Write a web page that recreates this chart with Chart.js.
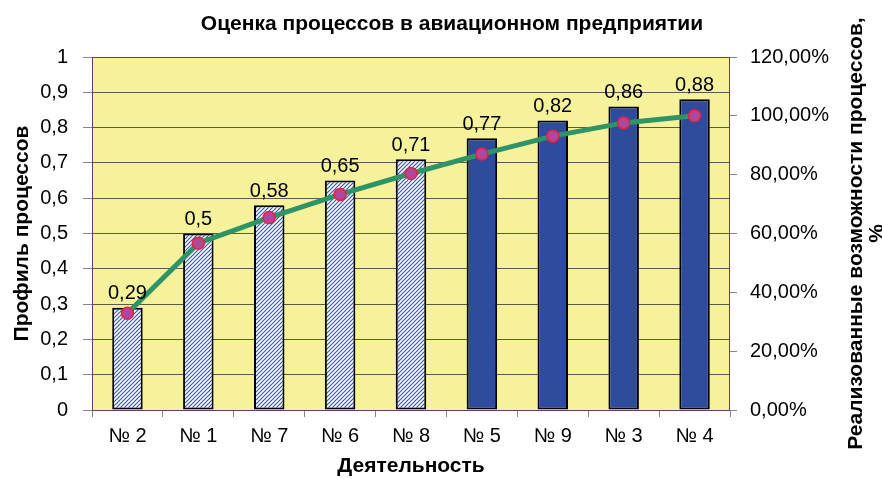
<!DOCTYPE html>
<html>
<head>
<meta charset="utf-8">
<script src="https://cdn.jsdelivr.net/npm/chart.js@4"></script>
<style>
  html, body { margin: 0; padding: 0; background: #fff; }
  #wrap { width: 882px; height: 479px; }
</style>
</head>
<body>
<div id="wrap"><canvas id="chart" width="882" height="479"></canvas></div>
<script>
const categories = ["№ 2", "№ 1", "№ 7", "№ 6", "№ 8", "№ 5", "№ 9", "№ 3", "№ 4"];
const profileValues = [0.29, 0.5, 0.58, 0.65, 0.71, 0.77, 0.82, 0.86, 0.88];
const realizedPercent = [32.9, 56.7, 65.4, 73.3, 80.4, 87.0, 93.1, 97.6, 100];
const hatchedCount = 5;

const chartTitle = "Оценка процессов в авиационном предприятии";
const rightTitle = ["Реализованные возможности процессов,", "%"];

const FONT = "Arial, 'Liberation Sans', sans-serif";

function makeHatch() {
  const c = document.createElement("canvas");
  c.width = 4;
  c.height = 4;
  const g = c.getContext("2d");
  g.fillStyle = "#ffffff";
  g.fillRect(0, 0, 4, 4);
  g.strokeStyle = "#3a56a8";
  g.lineWidth = 1.2;
  g.beginPath();
  g.moveTo(-1, 5); g.lineTo(5, -1);
  g.moveTo(-1, 1); g.lineTo(1, -1);
  g.moveTo(3, 5); g.lineTo(5, 3);
  g.stroke();
  return g.createPattern(c, "repeat");
}

const ctx = document.getElementById("chart").getContext("2d");
const hatch = makeHatch();
const barColors = profileValues.map((_, i) => i < hatchedCount ? hatch : "#2e4b9e");

const plotBackground = {
  id: "plotBackground",
  beforeDraw(chart) {
    const { ctx, chartArea: a } = chart;
    ctx.save();
    ctx.fillStyle = "#f6f29c";
    ctx.fillRect(a.left, a.top, a.right - a.left, a.bottom - a.top);
    ctx.restore();
  },
  afterDraw(chart) {
    const { ctx, chartArea: a } = chart;
    ctx.save();
    ctx.strokeStyle = "#6b3a6b";
    ctx.lineWidth = 1;
    ctx.strokeRect(a.left + 0.5, a.top + 0.5, a.right - a.left - 1, a.bottom - a.top);

    // chart title
    ctx.fillStyle = "#000";
    ctx.font = "bold 21px " + FONT;
    ctx.textAlign = "center";
    ctx.textBaseline = "middle";
    ctx.fillText(chartTitle, 452, 24);

    // right axis title, read bottom to top
    const cy = (a.top + a.bottom) / 2;
    ctx.translate(a.right, cy);
    ctx.rotate(-Math.PI / 2);
    ctx.fillText(rightTitle[0], 0, 126);
    ctx.fillText(rightTitle[1], 0, 147);
    ctx.restore();
  }
};

const barLabels = {
  id: "barLabels",
  afterDatasetsDraw(chart) {
    const { ctx } = chart;
    const meta = chart.getDatasetMeta(1);
    ctx.save();
    ctx.font = "20px " + FONT;
    ctx.fillStyle = "#000";
    ctx.textAlign = "center";
    ctx.textBaseline = "bottom";
    meta.data.forEach((bar, i) => {
      const txt = String(profileValues[i]).replace(".", ",");
      ctx.fillText(txt, bar.x, bar.y - 4);
    });
    ctx.restore();
  }
};

new Chart(ctx, {
  data: {
    labels: categories,
    datasets: [
      {
        type: "line",
        label: "Реализованные возможности",
        data: realizedPercent,
        yAxisID: "y2",
        borderColor: "#2e9465",
        borderWidth: 5,
        pointRadius: 6,
        pointBackgroundColor: "#b0479c",
        pointBorderColor: "#e8203c",
        pointBorderWidth: 1.5,
        tension: 0,
        order: 0
      },
      {
        type: "bar",
        label: "Профиль процессов",
        data: profileValues,
        yAxisID: "y",
        backgroundColor: barColors,
        borderColor: "#000",
        borderWidth: 2,
        borderSkipped: false,
        categoryPercentage: 1,
        barPercentage: 0.43,
        order: 1
      }
    ]
  },
  options: {
    responsive: false,
    animation: false,
    layout: { padding: { left: 0, right: 0, top: 57, bottom: 0 } },
    plugins: {
      legend: { display: false },
      tooltip: { enabled: false },
      title: { display: false }
    },
    scales: {
      x: {
        grid: { display: true, drawOnChartArea: false, offset: true, tickLength: 7, color: "#888" },
        border: { display: false },
        ticks: { color: "#000", font: { family: FONT, size: 20 }, padding: 7, maxRotation: 0 },
        title: {
          display: true,
          text: "Деятельность",
          color: "#000",
          font: { family: FONT, size: 21, weight: "bold" },
          padding: { top: 0, bottom: 0 }
        },
        afterFit: s => { s.height = 69; }
      },
      y: {
        position: "left",
        min: 0,
        max: 1,
        ticks: {
          stepSize: 0.1,
          color: "#000",
          font: { family: FONT, size: 20 },
          padding: 15,
          callback: v => String(Math.round(v * 10) / 10).replace(".", ",")
        },
        grid: { color: "#5a5a4a", lineWidth: 1, tickLength: 9, tickColor: "#888" },
        border: { display: false },
        title: {
          display: true,
          text: "Профиль процессов",
          color: "#000",
          font: { family: FONT, size: 21, weight: "bold" },
          padding: { top: 10, bottom: 0 }
        },
        afterFit: s => { s.width = 92; }
      },
      y2: {
        position: "right",
        min: 0,
        max: 120,
        ticks: {
          stepSize: 20,
          color: "#000",
          font: { family: FONT, size: 20 },
          padding: 13,
          callback: v => v.toFixed(2).replace(".", ",") + "%"
        },
        grid: { drawOnChartArea: false, tickLength: 7, color: "#888" },
        border: { display: false },
        title: { display: false },
        afterFit: s => { s.width = 152; }
      }
    }
  },
  plugins: [plotBackground, barLabels]
});
</script>
</body>
</html>
